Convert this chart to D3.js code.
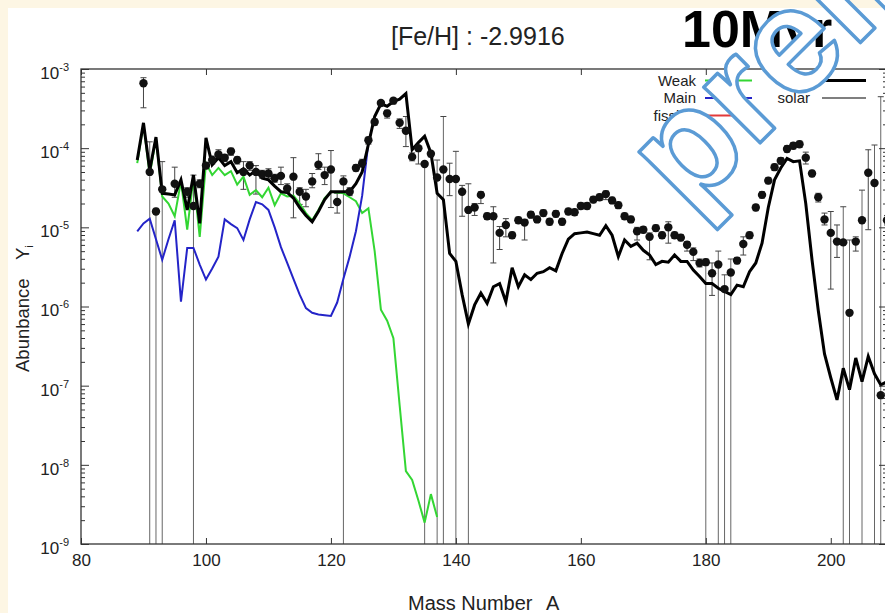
<!DOCTYPE html>
<html>
<head>
<meta charset="utf-8">
<script src="https://cdn.jsdelivr.net/npm/d3@7"></script>
<style>
  html, body { margin: 0; padding: 0; background: #fdf6e4; }
  svg { display: block; }
  text { font-family: "Liberation Sans", Arial, Helvetica, sans-serif; }
</style>
</head>
<body>
<svg id="chart" width="885" height="613"></svg>
<script>
// values are log10(Y)
const xTicks = [80, 100, 120, 140, 160, 180, 200];
const yDecades = [1e-9, 1e-8, 1e-7, 1e-6, 1e-5, 1e-4, 1e-3];

const totalLine = [
  [89, -4.15], [90, -3.68], [91, -4.28], [92, -3.86], [93, -4.57], [94, -4.58],
  [95, -4.59], [96, -4.40], [97, -4.78], [98, -4.34], [99, -4.95], [100, -3.87],
  [101, -4.21], [102, -4.12], [103, -4.22], [104, -4.17], [105, -4.31], [106, -4.26],
  [107, -4.34], [108, -4.28], [109, -4.38], [110, -4.40], [111, -4.48], [112, -4.55],
  [113, -4.56], [114, -4.63], [115, -4.75], [116, -4.85], [117, -4.93], [118, -4.80],
  [119, -4.65], [120, -4.55], [121, -4.55], [122, -4.55], [123, -4.55], [124, -4.45],
  [125, -4.30], [126, -3.95], [127, -3.60], [128, -3.44], [129, -3.47], [130, -3.41],
  [131, -3.38], [132, -3.31], [133, -4.02], [134, -3.93], [135, -3.85], [136, -4.06],
  [137, -4.57], [138, -4.65], [139, -5.33], [140, -5.43], [141, -5.85], [142, -6.22],
  [143, -5.98], [144, -5.83], [145, -5.96], [146, -5.75], [147, -5.71], [148, -5.94],
  [149, -5.51], [150, -5.75], [151, -5.60], [152, -5.66], [153, -5.58], [154, -5.56],
  [155, -5.51], [156, -5.55], [157, -5.33], [158, -5.15], [159, -5.08], [160, -5.07],
  [161, -5.06], [162, -5.08], [163, -5.10], [164, -4.98], [165, -5.10], [166, -5.37],
  [167, -5.16], [168, -5.24], [169, -5.20], [170, -5.29], [171, -5.35], [172, -5.47],
  [173, -5.43], [174, -5.44], [175, -5.35], [176, -5.43], [177, -5.43], [178, -5.54],
  [179, -5.62], [180, -5.71], [181, -5.71], [182, -5.77], [183, -5.81], [184, -5.85],
  [185, -5.73], [186, -5.75], [187, -5.56], [188, -5.45], [189, -5.20], [190, -4.75],
  [191, -4.40], [192, -4.25], [193, -4.13], [194, -4.17], [195, -4.16], [196, -4.70],
  [197, -5.41], [198, -6.05], [199, -6.60], [200, -6.90], [201, -7.18], [202, -6.78],
  [203, -7.05], [204, -6.65], [205, -6.95], [206, -6.63], [207, -6.85], [208, -6.99],
  [209, -6.95]
];

const weakLine = [
  [89, -4.19], [90, -3.70], [91, -4.34], [92, -3.88], [93, -4.61], [94, -4.70],
  [95, -4.86], [96, -4.42], [97, -5.03], [98, -4.38], [99, -5.12], [100, -4.19],
  [101, -4.34], [102, -4.25], [103, -4.34], [104, -4.29], [105, -4.46], [106, -4.36],
  [107, -4.59], [108, -4.53], [109, -4.62], [110, -4.50], [111, -4.72], [112, -4.57],
  [113, -4.61], [114, -4.60], [115, -4.70], [116, -4.82], [117, -4.91], [118, -4.78],
  [119, -4.63], [120, -4.55], [121, -4.56], [122, -4.57], [123, -4.62], [124, -4.67],
  [125, -4.82], [126, -4.76], [127, -5.30], [128, -6.04], [129, -6.18], [130, -6.40],
  [131, -7.25], [132, -8.08], [133, -8.19], [134, -8.45], [135, -8.73], [136, -8.37],
  [137, -8.66]
];

const mainLine = [
  [89, -5.05], [90, -4.95], [91, -4.89], [92, -5.15], [93, -5.41], [94, -5.15],
  [95, -4.91], [96, -5.94], [97, -5.26], [98, -5.26], [99, -5.47], [100, -5.66],
  [101, -5.52], [102, -5.37], [103, -4.90], [104, -4.96], [105, -5.01], [106, -5.16],
  [107, -4.90], [108, -4.68], [109, -4.71], [110, -4.78], [111, -5.00], [112, -5.25],
  [113, -5.45], [114, -5.65], [115, -5.85], [116, -6.02], [117, -6.08], [118, -6.10],
  [119, -6.11], [120, -6.12], [121, -5.95], [122, -5.65], [123, -5.37], [124, -5.05],
  [125, -4.60], [126, -3.93]
];

// [A, value, upper, lower]; lower null = bar runs off the bottom
const observed = [
  [90, -3.18, -3.11, -3.49], [91, -4.30, -3.92, null], [92, -4.80, -4.76, null],
  [93, -4.52, -4.17, null], [95, -4.45, -4.24, -4.62], [97, -4.55, -4.50, -4.62],
  [98, -4.73, -4.34, null], [99, -4.45, -4.40, -4.50], [100, -4.22, -4.18, -4.26],
  [101, -4.15, -4.10, -4.20], [102, -4.08, -4.02, -4.13], [103, -4.12, -4.08, -4.17],
  [104, -4.04, -4.00, -4.09], [105, -4.15, -4.11, -4.20], [106, -4.30, -4.17, -4.52],
  [107, -4.22, -4.17, -4.28], [108, -4.30, -4.22, -4.58], [109, -4.33, -4.28, -4.38],
  [110, -4.32, -4.26, -4.38], [111, -4.38, -4.33, -4.43], [112, -4.35, -4.24, -4.46],
  [113, -4.51, -4.45, -4.56], [114, -4.36, -4.12, -4.88], [115, -4.55, -4.50, -4.71],
  [116, -4.61, -4.52, -4.74], [117, -4.42, -4.32, -4.50], [118, -4.21, -4.07, -4.27],
  [119, -4.34, -4.24, -4.46], [120, -4.27, -4.03, -4.75], [121, -4.68, -4.57, -4.82],
  [122, -4.42, -4.35, null], [123, -4.55, -4.50, -4.60], [124, -4.25, -4.21, -4.29],
  [125, -4.19, -4.14, -4.24], [126, -3.90, -3.86, -3.95], [127, -3.67, -3.63, -3.71],
  [128, -3.43, -3.40, -3.46], [129, -3.56, -3.52, -3.62], [130, -3.40, -3.37, -3.44],
  [131, -3.68, -3.63, -3.75], [132, -3.78, -3.60, -3.98], [133, -4.11, -4.06, -4.16],
  [134, -4.00, -3.98, -4.20], [135, -4.20, -4.17, null], [136, -4.07, -4.04, -4.11],
  [137, -4.37, -4.15, null], [138, -4.27, -3.60, null], [139, -4.39, -4.19, -4.60],
  [140, -4.39, -4.04, null], [141, -4.55, -4.47, -4.86], [142, -4.78, -4.45, null],
  [143, -4.75, -4.70, -4.85], [144, -4.59, -4.55, -4.70], [145, -4.86, -4.82, -4.90],
  [146, -4.86, -4.74, -5.45], [147, -5.07, -4.99, -5.28], [148, -4.97, -4.89, -5.12],
  [149, -5.10, -5.06, -5.14], [150, -4.91, -4.87, -4.95], [151, -4.94, -4.90, -5.16],
  [152, -4.84, -4.80, -4.88], [153, -4.90, -4.86, -4.94], [154, -4.82, -4.78, -4.86],
  [155, -4.93, -4.89, -4.97], [156, -4.83, -4.79, -4.87], [157, -4.93, -4.89, -4.97],
  [158, -4.80, -4.76, -4.84], [159, -4.81, -4.77, -4.85], [160, -4.73, -4.69, -4.77],
  [161, -4.73, -4.69, -4.77], [162, -4.65, -4.61, -4.69], [163, -4.62, -4.58, -4.66],
  [164, -4.58, -4.54, -4.65], [165, -4.66, -4.62, -4.70], [166, -4.72, -4.68, -4.76],
  [167, -4.86, -4.82, -4.90], [168, -4.90, -4.86, -4.94], [169, -5.05, -5.00, -5.16],
  [170, -5.03, -4.99, -5.07], [171, -5.12, -5.07, -5.41], [172, -5.01, -4.97, -5.05],
  [173, -5.10, -5.06, -5.14], [174, -5.00, -4.93, -5.20], [175, -5.10, -5.06, -5.14],
  [176, -5.13, -5.09, -5.17], [177, -5.22, -5.18, -5.30], [178, -5.31, -5.26, -5.42],
  [179, -5.45, -5.40, -5.50], [180, -5.44, -5.40, null], [181, -5.58, -5.45, -5.86],
  [182, -5.47, -5.30, null], [183, -5.78, -5.60, null], [184, -5.57, -5.40, null],
  [185, -5.42, -5.38, -5.46], [186, -5.21, -5.12, -5.35], [187, -5.10, -5.06, -5.14],
  [188, -4.75, -4.71, -4.79], [189, -4.59, -4.55, -4.63], [190, -4.41, -4.37, -4.45],
  [191, -4.24, -4.20, -4.28], [192, -4.16, -4.12, -4.20], [193, -4.01, -3.97, -4.05],
  [194, -3.97, -3.93, -4.01], [195, -3.95, -3.91, -3.99], [196, -4.12, -4.05, -4.20],
  [197, -4.32, -4.28, -4.36], [198, -4.62, -4.57, -4.68], [199, -4.90, -4.82, -4.97],
  [200, -5.07, -4.80, -5.78], [201, -5.18, -4.97, -5.38], [202, -5.19, -4.74, null],
  [203, -6.08, -5.16, null], [204, -5.18, -5.12, -5.30], [205, -4.91, -4.53, null],
  [206, -4.31, -4.02, -5.03], [207, -4.44, -3.96, null], [208, -7.12, -3.35, null],
  [209, -4.91, -4.85, -4.97]
];

const legendLeft = [
  { label: "Weak", color: "#33d633" },
  { label: "Main", color: "#2424c8" },
  { label: "fission", color: "#e23a3a" }
];

const svg = d3.select("#chart");
const width = 885, height = 613;

const x = d3.scaleLinear().domain([80, 209]).range([81, 887]);
const y = d3.scaleLog().domain([1e-9, 1e-3]).range([544, 69]);
const ly = (v) => y(Math.pow(10, v));

// page background
svg.append("rect").attr("width", width).attr("height", height).attr("fill", "#fdf6e4");
svg.append("rect").attr("x", 8).attr("y", 8).attr("width", width - 8).attr("height", height - 8).attr("fill", "#fff");

svg.append("text")
  .attr("x", 391).attr("y", 45)
  .attr("font-size", 25).attr("fill", "#222")
  .text("[Fe/H] : -2.9916");

svg.append("text")
  .attr("x", 682).attr("y", 47)
  .attr("font-size", 52).attr("font-weight", "bold").attr("fill", "#000")
  .text("10Myr");

svg.append("clipPath").attr("id", "plot-clip")
  .append("rect").attr("x", 81).attr("y", 69).attr("width", 806).attr("height", 475);

const plot = svg.append("g").attr("clip-path", "url(#plot-clip)");

// error bars
const bars = plot.append("g").attr("stroke-width", 1);
observed.forEach(([a, v, hi, lo]) => {
  const cx = x(a);
  const top = ly(hi);
  const bottom = lo === null ? y(1e-9) : ly(lo);
  bars.append("line")
    .attr("x1", cx).attr("x2", cx).attr("y1", top).attr("y2", bottom)
    .attr("stroke", lo === null ? "#666" : "#444");
  if (hi > v + 0.02) {
    bars.append("line").attr("x1", cx - 3).attr("x2", cx + 3)
      .attr("y1", top).attr("y2", top).attr("stroke", "#444");
  }
  if (lo !== null && lo < v - 0.02) {
    bars.append("line").attr("x1", cx - 3).attr("x2", cx + 3)
      .attr("y1", bottom).attr("y2", bottom).attr("stroke", "#444");
  }
});

const line = d3.line().x((d) => x(d[0])).y((d) => ly(d[1]));

plot.append("path").datum(weakLine)
  .attr("fill", "none").attr("stroke", "#33d633").attr("stroke-width", 2).attr("d", line);
plot.append("path").datum(mainLine)
  .attr("fill", "none").attr("stroke", "#2424c8").attr("stroke-width", 2).attr("d", line);
plot.append("path").datum(totalLine)
  .attr("fill", "none").attr("stroke", "#000").attr("stroke-width", 3)
  .attr("stroke-linejoin", "miter").attr("d", line);

plot.append("g").selectAll("circle")
  .data(observed)
  .join("circle")
  .attr("cx", (d) => x(d[0]))
  .attr("cy", (d) => ly(d[1]))
  .attr("r", 4.2)
  .attr("fill", "#111");

// axes, gnuplot style: ticks inside, mirrored
const minorTicks = y.ticks().filter((t) => !yDecades.some((d) => Math.abs(t - d) < d * 1e-6));

function styleAxis(g) {
  g.select(".domain").remove();
  g.selectAll("line").attr("stroke", "#333");
}

svg.append("g").attr("transform", "translate(0,544)")
  .call(d3.axisBottom(x).tickValues(xTicks).tickSize(-6).tickPadding(10).tickFormat(d3.format("d")))
  .call(styleAxis)
  .call((g) => g.selectAll("text").attr("font-size", 17).attr("fill", "#222")
    .attr("font-family", "'Liberation Sans', Arial, sans-serif"));

svg.append("g").attr("transform", "translate(0,69)")
  .call(d3.axisTop(x).tickValues(xTicks).tickSize(-6).tickFormat(""))
  .call(styleAxis);

const leftAxis = svg.append("g").attr("transform", "translate(81,0)")
  .call(d3.axisLeft(y).tickValues(yDecades).tickSize(-8).tickPadding(12).tickFormat(""))
  .call(styleAxis);

leftAxis.selectAll(".tick text")
  .attr("font-size", 17).attr("fill", "#222")
  .attr("font-family", "'Liberation Sans', Arial, sans-serif")
  .attr("dy", "0.55em")
  .each(function (d) {
    const t = d3.select(this);
    t.append("tspan").text("10");
    t.append("tspan").attr("font-size", 11).attr("dy", -8).text(Math.round(Math.log10(d)));
  });

svg.append("g").attr("transform", "translate(81,0)")
  .call(d3.axisLeft(y).tickValues(minorTicks).tickSize(-4).tickFormat(""))
  .call(styleAxis);
svg.append("g").attr("transform", "translate(887,0)")
  .call(d3.axisRight(y).tickValues(yDecades).tickSize(-8).tickFormat(""))
  .call(styleAxis);
svg.append("g").attr("transform", "translate(887,0)")
  .call(d3.axisRight(y).tickValues(minorTicks).tickSize(-4).tickFormat(""))
  .call(styleAxis);

svg.append("rect")
  .attr("x", 81).attr("y", 69).attr("width", 806).attr("height", 475)
  .attr("fill", "none").attr("stroke", "#333").attr("stroke-width", 1.3);

// axis titles
const xTitle = svg.append("text")
  .attr("y", 610).attr("font-size", 20).attr("fill", "#222");
xTitle.append("tspan").attr("x", 408).text("Mass Number");
xTitle.append("tspan").attr("x", 546).text("A");

const yTitle = svg.append("text")
  .attr("transform", "translate(29,372) rotate(-90)")
  .attr("font-size", 18.5).attr("fill", "#222");
yTitle.append("tspan").attr("x", 0).text("Abunbance");
yTitle.append("tspan").attr("x", 112).text("Y");
yTitle.append("tspan").attr("font-size", 11).attr("dy", 4).text("i");

// legend
const legend = svg.append("g").attr("font-family", "'DejaVu Sans', sans-serif").attr("font-size", 15);
legendLeft.forEach((item, i) => {
  const ry = 80.5 + i * 17.5;
  legend.append("text").attr("x", 696).attr("y", ry + 5).attr("text-anchor", "end")
    .attr("fill", "#222").text(item.label);
  legend.append("line").attr("x1", 705).attr("x2", 752).attr("y1", ry).attr("y2", ry)
    .attr("stroke", item.color).attr("stroke-width", 2);
});
legend.append("line").attr("x1", 822).attr("x2", 866).attr("y1", 80.5).attr("y2", 80.5)
  .attr("stroke", "#000").attr("stroke-width", 3);
legend.append("text").attr("x", 810).attr("y", 103).attr("text-anchor", "end")
  .attr("fill", "#222").text("solar");
legend.append("line").attr("x1", 822).attr("x2", 866).attr("y1", 98).attr("y2", 98)
  .attr("stroke", "#000").attr("stroke-width", 1.2);

// watermark
svg.append("text")
  .attr("transform", "translate(688,215) rotate(-45)")
  .attr("font-size", 150)
  .attr("font-weight", "bold")
  .attr("fill", "#fff")
  .attr("stroke", "#5b9bd5")
  .attr("stroke-width", 3.5)
  .attr("stroke-linejoin", "round")
  .text("preliminary");
</script>
</body>
</html>
